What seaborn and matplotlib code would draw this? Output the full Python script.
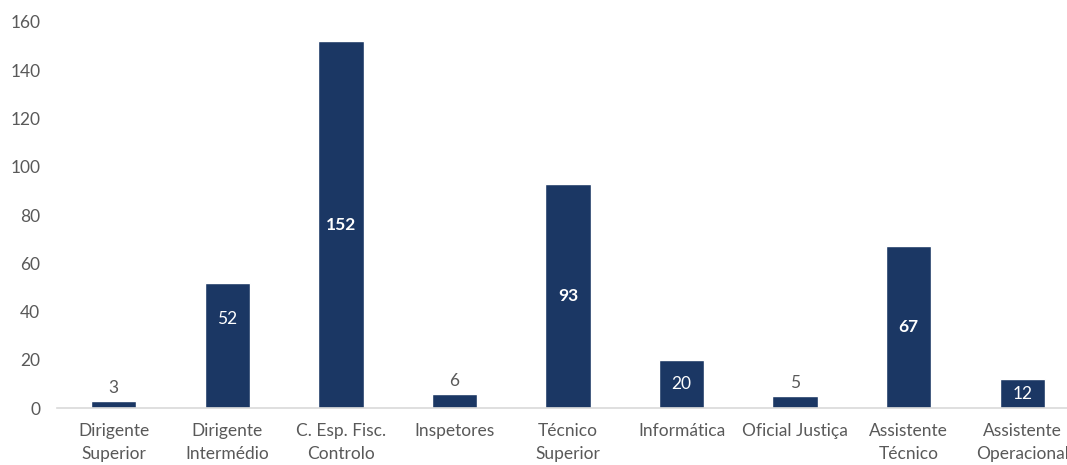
import matplotlib
matplotlib.use("Agg")
import matplotlib.pyplot as plt
import seaborn as sns
import pandas as pd

categories = ["Dirigente\nSuperior", "Dirigente\nIntermédio", "C. Esp. Fisc.\nControlo",
              "Inspetores", "Técnico\nSuperior", "Informática", "Oficial Justiça",
              "Assistente\nTécnico", "Assistente\nOperacional"]
values = [3, 52, 152, 6, 93, 20, 5, 67, 12]
bold_labels = [152, 93, 67]

sns.set_theme(style="white")
plt.rcParams["font.family"] = ["Lato", "DejaVu Sans"]

df = pd.DataFrame({"categoria": categories, "valor": values})

fig = plt.figure(figsize=(10.67, 4.65), dpi=100)
ax = fig.add_axes([57 / 1067, 57 / 465, 1022 / 1067, 386 / 465])

bar_color = "#1B3764"
sns.barplot(data=df, x="categoria", y="valor", color=bar_color, width=0.4,
            saturation=1, ax=ax)

ax.set_ylim(0, 160)
ax.set_xlim(-0.5, len(categories) - 0.5)
ax.set_yticks(range(0, 161, 20))
ax.set_xlabel("")
ax.set_ylabel("")

text_gray = "#595959"
ax.tick_params(axis="both", length=0, colors=text_gray, labelsize=12.5)
ax.tick_params(axis="y", pad=12)
ax.tick_params(axis="x", pad=11)
for lbl in ax.get_xticklabels():
    lbl.set_linespacing(1.55)

for side in ["top", "right", "left"]:
    ax.spines[side].set_visible(False)
ax.spines["bottom"].set_color("#D9D9D9")
ax.spines["bottom"].set_linewidth(1.2)

for i, v in enumerate(values):
    if v >= 10:
        # the 52 label sits a little higher inside its bar
        y = v * 0.71 if v == 52 else v / 2
        ax.text(i, y, str(v), ha="center", va="center", color="white",
                fontsize=12.5, fontweight="bold" if v in bold_labels else "normal")
    else:
        ax.text(i, v + 2, str(v), ha="center", va="bottom", color=text_gray,
                fontsize=12.5)

fig.savefig("out.png", dpi=100)
